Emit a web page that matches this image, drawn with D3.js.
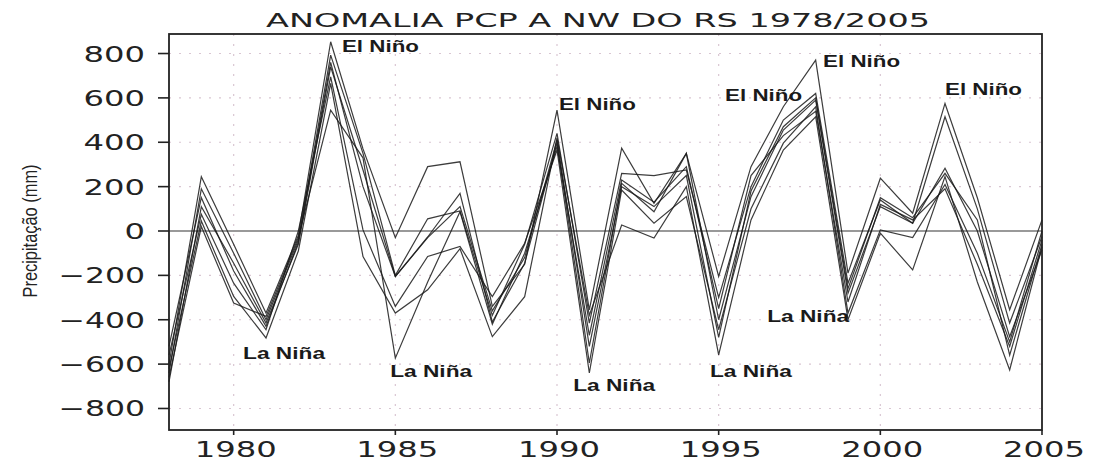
<!DOCTYPE html>
<html>
<head>
<meta charset="utf-8">
<script src="https://cdn.jsdelivr.net/npm/d3@7"></script>
<style>
  body { margin: 0; background: #fff; }
  svg { display: block; }
</style>
</head>
<body>
<svg id="chart" width="1093" height="461"></svg>
<script>
// anomalia de precipitação, NW do RS (7 séries)
const years = d3.range(1978, 2006);
const s1 = [-600, 245, -60, -370, -20, 853, 370, -30, 290, 312, -340, -150, 545, -355, 373, 125, 350, -205, 290, 560, 770, -190, 238, 80, 575, 150, -355, 50];
const s2 = [-640, 190, -100, -400, -40, 793, 350, -200, 55, 90, -380, -60, 440, -415, 260, 250, 275, -300, 200, 500, 620, -235, 140, 35, 515, 100, -415, -25];
const s3 = [-680, 110, -145, -415, -60, 740, 275, -205, -27, 170, -410, -145, 396, -595, 215, 87, 350, -400, 155, 455, 590, -280, 110, 35, 283, 0, -476, -85];
const s4 = [-560, 75, -235, -445, 0, 695, 5, -340, -115, -70, -296, -55, 365, -640, 185, 35, 155, -445, 100, 396, 560, -370, 5, -30, 210, -100, -500, 0];
const s5 = [-620, 45, -295, -482, -90, 665, -115, -370, -265, -80, -476, -296, 420, -380, 27, -32, 200, -558, 50, 365, 515, -400, -10, -175, 245, -230, -626, -70];
const s6 = [-660, 20, -325, -385, -30, 545, 330, -573, -230, 87, -420, -100, 380, -470, 230, 130, 290, -350, 250, 430, 540, -320, 120, 50, 190, -150, -520, -40];
const s7 = [-520, 150, -180, -430, -50, 760, 200, -205, -30, 110, -360, -120, 410, -520, 200, 110, 250, -480, 180, 470, 600, -260, 150, 60, 260, 50, -560, -60];
const series = [s1, s2, s3, s4, s5, s6, s7];

const yTicks = [-800, -600, -400, -200, 0, 200, 400, 600, 800];
const xTicks = [1980, 1985, 1990, 1995, 2000, 2005];

// rótulos ENOS: texto, ano e valor onde começa o texto
const ninoLabels = [
  { text: "El Niño", year: 1983.35, value: 807 },
  { text: "El Niño", year: 1990.06, value: 545 },
  { text: "El Niño", year: 1995.2, value: 586 },
  { text: "El Niño", year: 1998.23, value: 739 },
  { text: "El Niño", year: 2002.0, value: 613 },
];
const ninaLabels = [
  { text: "La Niña", year: 1980.29, value: -577 },
  { text: "La Niña", year: 1984.84, value: -658 },
  { text: "La Niña", year: 1990.5, value: -721 },
  { text: "La Niña", year: 1994.73, value: -658 },
  { text: "La Niña", year: 1996.5, value: -410 },
];

const svg = d3.select("#chart");
const plotL = 169, plotR = 1042, plotT = 34, plotB = 430;

const x = d3.scaleLinear().domain([1978, 2005]).range([plotL, plotR]);
const y = d3.scaleLinear().domain([-897, 888]).range([plotB, plotT]);

// grade pontilhada
const grid = svg.append("g");
grid.selectAll(".gy")
  .data(yTicks.filter(d => d !== 0))
  .enter()
  .append("line")
  .attr("x1", plotL).attr("x2", plotR)
  .attr("y1", d => y(d)).attr("y2", d => y(d))
  .attr("stroke", "#d9c6d2")
  .attr("stroke-width", 1.2)
  .attr("stroke-dasharray", "2,8");
grid.selectAll(".gx")
  .data(xTicks.filter(d => d < 2005))
  .enter()
  .append("line")
  .attr("x1", d => x(d)).attr("x2", d => x(d))
  .attr("y1", plotT).attr("y2", plotB)
  .attr("stroke", "#d9c6d2")
  .attr("stroke-width", 1.2)
  .attr("stroke-dasharray", "2,8");

// linha do zero
svg.append("line")
  .attr("x1", plotL).attr("x2", plotR)
  .attr("y1", y(0)).attr("y2", y(0))
  .attr("stroke", "#777")
  .attr("stroke-width", 1.3);

// séries
const line = d3.line()
  .x((d, i) => x(years[i]))
  .y(d => y(d));
svg.append("g")
  .selectAll("path")
  .data(series)
  .enter()
  .append("path")
  .attr("fill", "none")
  .attr("stroke", "#1a1a1a")
  .attr("stroke-width", 1.2)
  .attr("stroke-opacity", 0.85)
  .attr("stroke-linejoin", "miter")
  .attr("d", line);

// moldura
svg.append("rect")
  .attr("x", plotL).attr("y", plotT)
  .attr("width", plotR - plotL).attr("height", plotB - plotT)
  .attr("fill", "none")
  .attr("stroke", "#222")
  .attr("stroke-width", 1.8);

// eixo y
const yAxis = svg.append("g");
yAxis.selectAll("line")
  .data(yTicks)
  .enter()
  .append("line")
  .attr("x1", plotL - 11).attr("x2", plotL)
  .attr("y1", d => y(d)).attr("y2", d => y(d))
  .attr("stroke", "#222")
  .attr("stroke-width", 1.6);
yAxis.selectAll("text")
  .data(yTicks)
  .enter()
  .append("text")
  .attr("x", 145)
  .attr("y", d => y(d) + 8)
  .attr("text-anchor", "end")
  .attr("textLength", d => String(Math.abs(d)).length * 20.5 + (d < 0 ? 25 : 0))
  .attr("lengthAdjust", "spacingAndGlyphs")
  .style("font-family", "DejaVu Sans")
  .style("font-size", "22px")
  .style("fill", "#222")
  .text(d => (d < 0 ? "\u2212" : "") + Math.abs(d));

// eixo x
const xAxis = svg.append("g");
xAxis.selectAll("line")
  .data(xTicks)
  .enter()
  .append("line")
  .attr("x1", d => x(d)).attr("x2", d => x(d))
  .attr("y1", plotB).attr("y2", plotB + 5)
  .attr("stroke", "#222")
  .attr("stroke-width", 1.6);
xAxis.selectAll("text")
  .data(xTicks)
  .enter()
  .append("text")
  .attr("x", d => x(d) + 2)
  .attr("y", 457)
  .attr("text-anchor", "middle")
  .attr("textLength", 82)
  .attr("lengthAdjust", "spacingAndGlyphs")
  .style("font-family", "DejaVu Sans")
  .style("font-size", "22px")
  .style("fill", "#222")
  .text(d => d);

// título
svg.append("text")
  .attr("x", 598)
  .attr("y", 27)
  .attr("text-anchor", "middle")
  .attr("textLength", 664)
  .attr("lengthAdjust", "spacingAndGlyphs")
  .style("font-family", "DejaVu Sans")
  .style("font-size", "19px")
  .style("fill", "#222")
  .text("ANOMALIA PCP A NW DO RS 1978/2005");

// rótulo do eixo y
svg.append("text")
  .attr("transform", `translate(37, ${y(0)}) rotate(-90)`)
  .attr("text-anchor", "middle")
  .attr("textLength", 133)
  .attr("lengthAdjust", "spacingAndGlyphs")
  .style("font-family", "Liberation Sans")
  .style("font-size", "20px")
  .style("fill", "#222")
  .text("Precipitação (mm)");

// rótulos El Niño / La Niña
svg.append("g")
  .selectAll("text")
  .data(ninoLabels.concat(ninaLabels))
  .enter()
  .append("text")
  .attr("x", d => x(d.year))
  .attr("y", d => y(d.value))
  .attr("textLength", d => (d.text === "El Niño" ? 77 : 82))
  .attr("lengthAdjust", "spacingAndGlyphs")
  .style("font-family", "Liberation Sans")
  .style("font-weight", "bold")
  .style("font-size", "17px")
  .style("fill", "#1a1a1a")
  .text(d => d.text);
</script>
</body>
</html>
